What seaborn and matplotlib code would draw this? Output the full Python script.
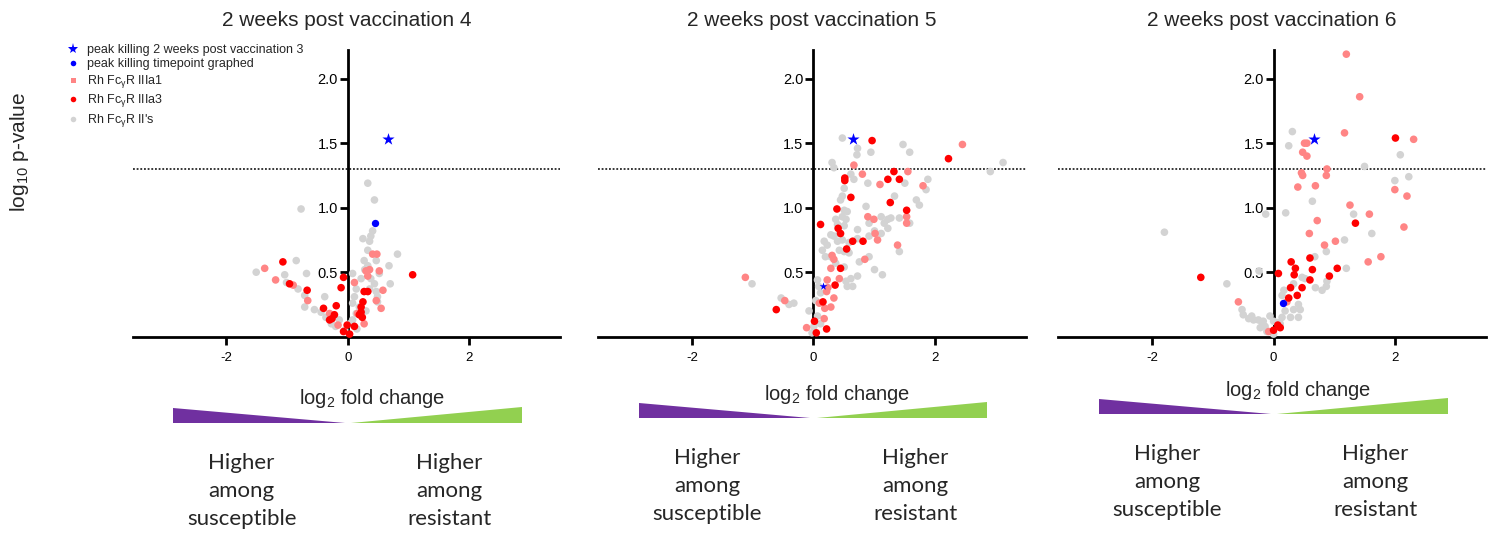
import pandas as pd
import seaborn as sns
import matplotlib.pyplot as plt
import matplotlib.transforms as mtransforms
from matplotlib.patches import Polygon
from matplotlib.lines import Line2D

sns.set_theme(style="ticks")
plt.rcParams['font.family'] = ['Liberation Sans', 'DejaVu Sans']
plt.rcParams['mathtext.fontset'] = 'custom'
plt.rcParams['mathtext.rm'] = 'Liberation Sans'
plt.rcParams['mathtext.it'] = 'Liberation Sans:italic'
plt.rcParams['axes.unicode_minus'] = False

titles = ["2 weeks post vaccination 4", "2 weeks post vaccination 5", "2 weeks post vaccination 6"]
groups = ["Rh FcγR II's", "Rh FcγR IIIa1", "Rh FcγR IIIa3"]

# peak killing 2 weeks post vaccination 3 (same point on every panel)
star_x = 0.66
star_y = 1.53

# ---- vaccination 4 ----
v4_grey_x = [0.33, 0.44, -0.77, 0.41, 0.38, 0.36, 0.25, 0.33, 0.47, 0.82,
             0.68, -0.85, -1.51, -1.04, -0.68, 0.08, 0.27, 0.22, 0.38, 0.52,
             0.70, 0.14, 0.44, -1.01, -0.82, -0.71, -0.38, -0.71, -0.55, -0.44,
             -0.36, -0.27, -0.14, 0.11, 0.08, 0.19, 0.14, 0.49, 0.49, 0.03,
             0.08, 0.47, 0.36, -0.20, -0.05, 0.15, 0.30, 0.28, 0.33]
v4_grey_y = [1.19, 1.06, 0.99, 0.82, 0.78, 0.74, 0.76, 0.67, 0.59, 0.64,
             0.55, 0.59, 0.50, 0.48, 0.49, 0.49, 0.59, 0.45, 0.45, 0.49,
             0.41, 0.37, 0.41, 0.42, 0.37, 0.32, 0.31, 0.23, 0.21, 0.19,
             0.15, 0.10, 0.13, 0.31, 0.26, 0.23, 0.18, 0.31, 0.27, 0.10,
             0.13, 0.35, 0.37, 0.08, 0.05, 0.06, 0.20, 0.52, 0.55]
v4_a1_x = [-1.37, -1.19, -0.90, -0.66, 0.41, 0.48, 0.30, 0.36, 0.52, 0.33,
           0.11, 0.58, 0.47, 0.55, -0.30, -0.16, 0.27, 0.16]
v4_a1_y = [0.53, 0.44, 0.40, 0.28, 0.64, 0.64, 0.51, 0.52, 0.51, 0.47,
           0.42, 0.36, 0.28, 0.22, 0.18, 0.09, 0.10, 0.18]
v4_a3_x = [-1.07, 1.07, -0.07, -0.11, -0.96, -0.67, 0.27, 0.33, 0.25, 0.22,
           -0.40, -0.19, -0.22, -0.26, -0.30, 0.19, 0.24, 0.22, -0.01, 0.11,
           -0.07, 0.03]
v4_a3_y = [0.58, 0.48, 0.46, 0.38, 0.41, 0.36, 0.35, 0.35, 0.27, 0.23,
           0.22, 0.24, 0.17, 0.14, 0.13, 0.17, 0.15, 0.19, 0.09, 0.08,
           0.04, 0.02]
v4_peak = (0.45, 0.88)

# ---- vaccination 5 ----
v5_grey_x = [0.48, 0.73, 0.72, 0.95, 1.48, 1.59, 0.31, 0.34, 0.62, 0.67,
             0.90, 0.51, 0.48, 0.45, 1.51, 1.89, 1.86, 1.70, 1.75, 1.34,
             0.87, 0.51, 0.56, 0.48, 0.54, 0.37, 0.40, 0.51, 0.92, 1.12,
             1.23, 1.28, 1.17, 1.23, 1.42, 1.59, 0.73, 0.29, 0.18, 0.23,
             0.34, 0.43, 0.40, 0.48, 0.59, 0.73, 0.92, 1.01, 1.12, 0.51,
             0.59, 0.43, 0.15, 1.42, 0.92, 0.76, 1.01, 1.14, 0.20, 0.29,
             0.37, 0.51, 0.73, 0.62, 0.54, 0.56, 0.65, 0.07, 0.09, 0.12,
             0.04, -0.07, 0.07, 0.12, 0.01, -0.02, -1.01, -0.53, -0.40, -0.32,
             2.92, 3.13]
v5_grey_y = [1.54, 1.46, 1.41, 1.43, 1.49, 1.43, 1.35, 1.31, 1.26, 1.22,
             1.19, 1.15, 1.09, 1.06, 1.19, 1.22, 1.14, 1.06, 1.02, 1.09,
             1.01, 0.98, 0.97, 0.93, 0.91, 0.91, 0.87, 0.86, 0.88, 0.93,
             0.91, 0.92, 0.88, 0.84, 0.92, 0.88, 0.83, 0.79, 0.74, 0.71,
             0.78, 0.80, 0.74, 0.75, 0.73, 0.76, 0.78, 0.82, 0.80, 0.66,
             0.65, 0.67, 0.67, 0.66, 0.62, 0.58, 0.52, 0.48, 0.62, 0.62,
             0.57, 0.54, 0.47, 0.45, 0.43, 0.39, 0.39, 0.44, 0.39, 0.34,
             0.28, 0.20, 0.16, 0.10, 0.08, 0.03, 0.41, 0.30, 0.25, 0.26,
             1.28, 1.35]
v5_a1_x = [2.46, 0.67, 0.81, 1.10, 1.56, 1.81, 0.90, 1.00, 1.54, 1.54,
           1.02, 1.06, 1.39, 0.85, 0.31, 0.34, 0.29, 0.43, 0.23, 0.24,
           0.22, 0.34, 0.29, 0.10, 0.19, 0.18, -1.12, -0.47, -0.11]
v5_a1_y = [1.49, 1.33, 1.26, 1.18, 1.28, 1.17, 0.93, 0.91, 0.93, 0.88,
           0.80, 0.75, 0.71, 0.60, 0.63, 0.60, 0.53, 0.45, 0.44, 0.38,
           0.35, 0.30, 0.23, 0.26, 0.22, 0.14, 0.46, 0.28, 0.07]
v5_a3_x = [0.97, 2.23, 1.33, 1.23, 1.42, 0.52, 0.52, 0.62, 1.27, 0.39,
           1.54, 0.12, 0.41, 0.45, 0.65, 0.82, 0.55, 0.45, 0.36, 0.16,
           -0.61, 0.02, 0.22, 0.05]
v5_a3_y = [1.52, 1.38, 1.28, 1.22, 1.22, 1.23, 1.21, 1.08, 1.04, 0.99,
           0.98, 0.87, 0.84, 0.80, 0.74, 0.74, 0.68, 0.53, 0.40, 0.27,
           0.21, 0.12, 0.06, 0.03]
v5_peak = (0.16, 0.39)

# ---- vaccination 6 ----
v6_grey_x = [0.31, 0.25, 2.09, 1.50, 2.00, 2.23, 0.64, 0.20, -0.13, 1.32,
             1.62, 1.17, 0.87, 0.68, 1.20, -1.80, -0.77, -0.24, 0.47, 0.52,
             0.33, 0.69, 0.80, 0.87, 0.88, 0.17, 0.14, 0.41, 0.44, 0.33,
             0.28, 0.41, -0.52, -0.50, -0.36, -0.33, -0.25, -0.19, -0.14, -0.22,
             -0.06, 0.00, 0.06, 0.11, 0.14, 0.19, -0.11, 0.00, -0.17, -0.41]
v6_grey_y = [1.59, 1.48, 1.41, 1.32, 1.21, 1.24, 1.05, 0.96, 0.95, 0.95,
             0.80, 0.75, 0.66, 0.62, 0.53, 0.81, 0.41, 0.51, 0.46, 0.45,
             0.41, 0.38, 0.36, 0.39, 0.43, 0.36, 0.32, 0.25, 0.21, 0.21,
             0.15, 0.15, 0.21, 0.17, 0.16, 0.13, 0.13, 0.11, 0.08, 0.07,
             0.16, 0.12, 0.11, 0.10, 0.15, 0.20, 0.04, 0.02, 0.12, 0.14]
v6_a1_x = [1.20, 1.42, 1.17, 2.31, 0.51, 0.55, 0.48, 0.55, 0.88, 0.46,
           0.48, 0.87, 0.40, 0.69, 2.00, 2.20, 1.26, 1.58, 0.72, 0.59,
           2.15, 0.84, 1.02, 1.77, 1.56, -0.58, -0.08, 0.22]
v6_a1_y = [2.19, 1.86, 1.58, 1.53, 1.50, 1.50, 1.43, 1.40, 1.30, 1.27,
           1.25, 1.25, 1.16, 1.17, 1.14, 1.09, 1.02, 0.95, 0.90, 0.80,
           0.85, 0.71, 0.74, 0.62, 0.58, 0.27, 0.04, 0.27]
v6_a3_x = [2.01, 1.35, 0.60, 0.29, 0.36, 0.34, 0.64, 0.08, 1.05, 0.92,
           0.60, 0.28, 0.47, 0.25, 0.39, -1.20, 0.07, 0.11, 0.00]
v6_a3_y = [1.54, 0.88, 0.61, 0.58, 0.53, 0.48, 0.52, 0.49, 0.53, 0.47,
           0.44, 0.38, 0.38, 0.30, 0.32, 0.46, 0.09, 0.07, 0.05]
v6_peak = (0.15, 0.26)

panel_data = [
    (v4_grey_x, v4_grey_y, v4_a1_x, v4_a1_y, v4_a3_x, v4_a3_y),
    (v5_grey_x, v5_grey_y, v5_a1_x, v5_a1_y, v5_a3_x, v5_a3_y),
    (v6_grey_x, v6_grey_y, v6_a1_x, v6_a1_y, v6_a3_x, v6_a3_y),
]
peaks = [v4_peak, v5_peak, v6_peak]
peak_marker = ['o', '*', 'o']

rows = []
for i, (gx, gy, ax1, ay1, ax3, ay3) in enumerate(panel_data):
    for g, xs, ys in zip(groups, (gx, ax1, ax3), (gy, ay1, ay3)):
        for x, y in zip(xs, ys):
            rows.append({'panel': i, 'group': g, 'lfc': x, 'logp': y})
df = pd.DataFrame(rows)

palette = {"Rh FcγR II's": '#D3D3D3', "Rh FcγR IIIa1": '#FF8585', "Rh FcγR IIIa3": '#FF0000'}
purple = '#7030A0'
green = '#92D050'

W, H = 1497, 536
fig = plt.figure(figsize=(W / 100, H / 100), dpi=100)

ax_left_px = [132.5, 598, 1058.3]
ax_w_px = 427.5
xl = (-3.55, 3.5)
yl = (0, 2.22)

# per-panel vertical placement of the annotations below (pixels from top)
tri_bottom = [423, 418, 414]
xlab_y = [399, 394, 390]
text_mid = [491, 486, 482]

axes = []
for i in range(3):
    ax = fig.add_axes([ax_left_px[i] / W, (H - 336.7) / H, ax_w_px / W, 286.4 / H])
    axes.append(ax)
    d = df[df.panel == i]
    sns.scatterplot(data=d, x='lfc', y='logp', hue='group', palette=palette,
                    hue_order=groups, s=30, linewidth=0, legend=False,
                    clip_on=False, ax=ax, zorder=3)
    px, py = peaks[i]
    ax.scatter([px], [py], marker=peak_marker[i], s=28 if peak_marker[i] == 'o' else 34,
               color='#0000FF', linewidth=0, zorder=4, clip_on=False)
    ax.scatter([star_x], [star_y], marker='*', s=85, color='#0000FF', linewidth=0, zorder=5)
    ax.axhline(1.30, color='black', ls=(0, (1.2, 1.2)), lw=1.1, zorder=2)

    ax.set_xlim(*xl)
    ax.set_ylim(*yl)
    ax.spines['left'].set_position(('data', 0))
    ax.spines['bottom'].set_position(('data', 0))
    ax.spines['top'].set_visible(False)
    ax.spines['right'].set_visible(False)
    for sp in ('left', 'bottom'):
        ax.spines[sp].set_linewidth(2)
        ax.spines[sp].set_color('black')
    ax.set_xticks([-2, 0, 2])
    ax.set_xticklabels(['-2', '0', '2'])
    ax.set_yticks([0.5, 1.0, 1.5, 2.0])
    ax.set_yticklabels(['0.5', '1.0', '1.5', '2.0'])
    ax.tick_params(axis='y', labelsize=10.5, width=2, length=6, pad=1, colors='black')
    ax.tick_params(axis='x', labelsize=9.5, width=2, length=6, pad=5, colors='black')
    ax.set_xlabel('')
    ax.set_ylabel('')

    bt = mtransforms.blended_transform_factory(ax.transAxes, fig.transFigure)
    ax.text(0.5, 1 - 21 / H, titles[i], transform=bt, ha='center', va='center', fontsize=15)

    dt = mtransforms.blended_transform_factory(ax.transData, fig.transFigure)
    ax.text(0.4, 1 - xlab_y[i] / H, r'log$_{\mathregular{2}}$ fold change', transform=dt,
            ha='center', va='center', fontsize=14.5)
    yb = 1 - tri_bottom[i] / H
    yt = 1 - (tri_bottom[i] - 15) / H
    ax.add_patch(Polygon([(-2.88, yt), (-2.88, yb), (-0.05, yb)], closed=True,
                         transform=dt, color=purple, lw=0, clip_on=False))
    ax.add_patch(Polygon([(0.06, yb), (2.87, yb), (2.87, 1 - (tri_bottom[i] - 16) / H)], closed=True,
                         transform=dt, color=green, lw=0, clip_on=False))
    ax.text(-1.75, 1 - text_mid[i] / H, 'Higher\namong\nsusceptible', transform=dt,
            ha='center', va='center', fontsize=16, family=['Lato', 'DejaVu Sans'], linespacing=1.53)
    ax.text(1.68, 1 - text_mid[i] / H, 'Higher\namong\nresistant', transform=dt,
            ha='center', va='center', fontsize=16, family=['Lato', 'DejaVu Sans'], linespacing=1.53)

fig.text(20 / W, 1 - 152 / H, r'log$_{\mathregular{10}}$ p-value', rotation=90,
         ha='center', va='center', fontsize=15)

handles = [
    Line2D([], [], ls='', marker='*', ms=8, color='#0000FF', mew=0),
    Line2D([], [], ls='', marker='o', ms=4, color='#0000FF', mew=0),
    Line2D([], [], ls='', marker='s', ms=3.6, color='#FF8585', mew=0),
    Line2D([], [], ls='', marker='o', ms=4, color='#FF0000', mew=0),
    Line2D([], [], ls='', marker='o', ms=4, color='#D3D3D3', mew=0),
]
labels = ['peak killing 2 weeks post vaccination 3', 'peak killing timepoint graphed',
          r'Rh Fc$_{\mathregular{γ}}$R IIIa1', r'Rh Fc$_{\mathregular{γ}}$R IIIa3',
          r'Rh Fc$_{\mathregular{γ}}$R II' + "'s"]
axes[0].legend(handles, labels, loc='upper left', bbox_to_anchor=(66.8 / W, 1 - 44 / H),
               bbox_transform=fig.transFigure, frameon=False, fontsize=9,
               handlelength=1.0, handletextpad=0.6, labelspacing=0.2,
               borderpad=0, borderaxespad=0)

fig.savefig('out.png', dpi=100)
